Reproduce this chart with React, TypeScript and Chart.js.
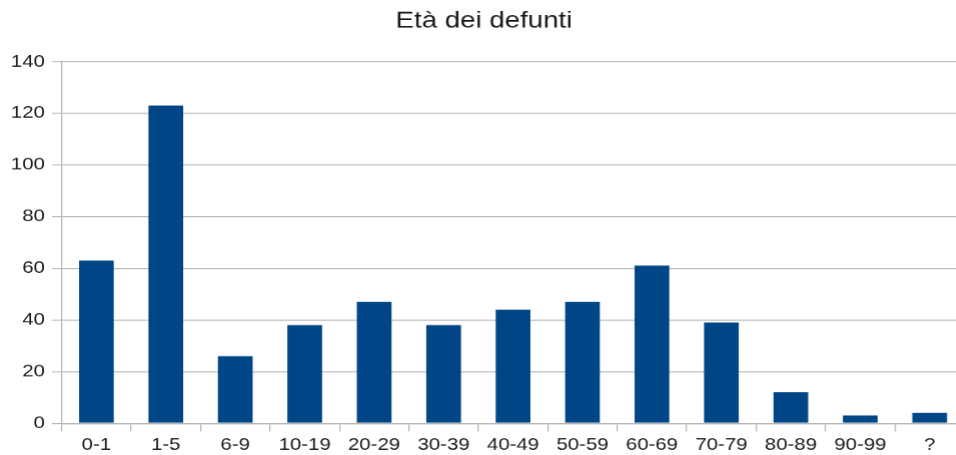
import React, { useEffect, useRef } from "react";
import { Chart, registerables } from "chart.js";

Chart.register(...registerables);

const categories = ["0-1", "1-5", "6-9", "10-19", "20-29", "30-39", "40-49", "50-59", "60-69", "70-79", "80-89", "90-99", "?"];
const deaths = [63, 123, 26, 38, 47, 38, 44, 47, 61, 39, 12, 3, 4];
const yTicks = { min: 0, max: 140, step: 20 };
const titleText = "Età dei defunti";

const STRETCH = 1.2;
const INNER_W = 814;
const INNER_H = 459;
const FONT = "'Liberation Sans', Arial, sans-serif";
const GRID = "#b3b3b3";
const TEXT = "#1a1a1a";

export default function App() {
  const ref = useRef<HTMLCanvasElement | null>(null);
  useEffect(() => {
    if (!ref.current) return;
    const chart = new Chart(ref.current, {
      type: "bar",
      data: {
        labels: categories,
        datasets: [
          {
            label: "Defunti",
            data: deaths,
            backgroundColor: "#004586",
            borderWidth: 0,
            categoryPercentage: 0.5,
            barPercentage: 1,
          },
        ],
      },
      options: {
        animation: false,
        responsive: true,
        maintainAspectRatio: false,
        devicePixelRatio: 1.2,
        layout: { padding: { left: 3, right: 11, top: 0, bottom: 0 } },
        plugins: {
          legend: { display: false },
          tooltip: { enabled: false },
          title: {
            display: true,
            text: titleText,
            color: TEXT,
            font: { family: FONT, size: 23, weight: "normal" },
            padding: { top: 7, bottom: 27 },
          },
        },
        scales: {
          x: {
            grid: {
              display: true,
              drawOnChartArea: false,
              drawTicks: true,
              tickLength: 8,
              color: GRID,
              offset: true,
            },
            border: { display: true, color: GRID },
            ticks: {
              color: TEXT,
              font: { family: FONT, size: 17 },
              padding: 4,
              maxRotation: 0,
              autoSkip: false,
            },
          },
          y: {
            min: yTicks.min,
            max: yTicks.max,
            grid: {
              color: GRID,
              drawTicks: true,
              tickLength: 8,
            },
            border: { display: true, color: GRID },
            ticks: {
              stepSize: yTicks.step,
              color: TEXT,
              font: { family: FONT, size: 17 },
              padding: 6,
            },
          },
        },
      },
    });
    return () => chart.destroy();
  }, []);

  return (
    <div
      style={{
        position: "fixed",
        left: 0,
        top: 0,
        width: 956,
        height: 455,
        overflow: "hidden",
        background: "#fff",
      }}
    >
      <div
        style={{
          width: INNER_W,
          height: INNER_H,
          transform: `scaleX(${STRETCH})`,
          transformOrigin: "0 0",
          position: "relative",
        }}
      >
        <canvas ref={ref} />
      </div>
    </div>
  );
}
